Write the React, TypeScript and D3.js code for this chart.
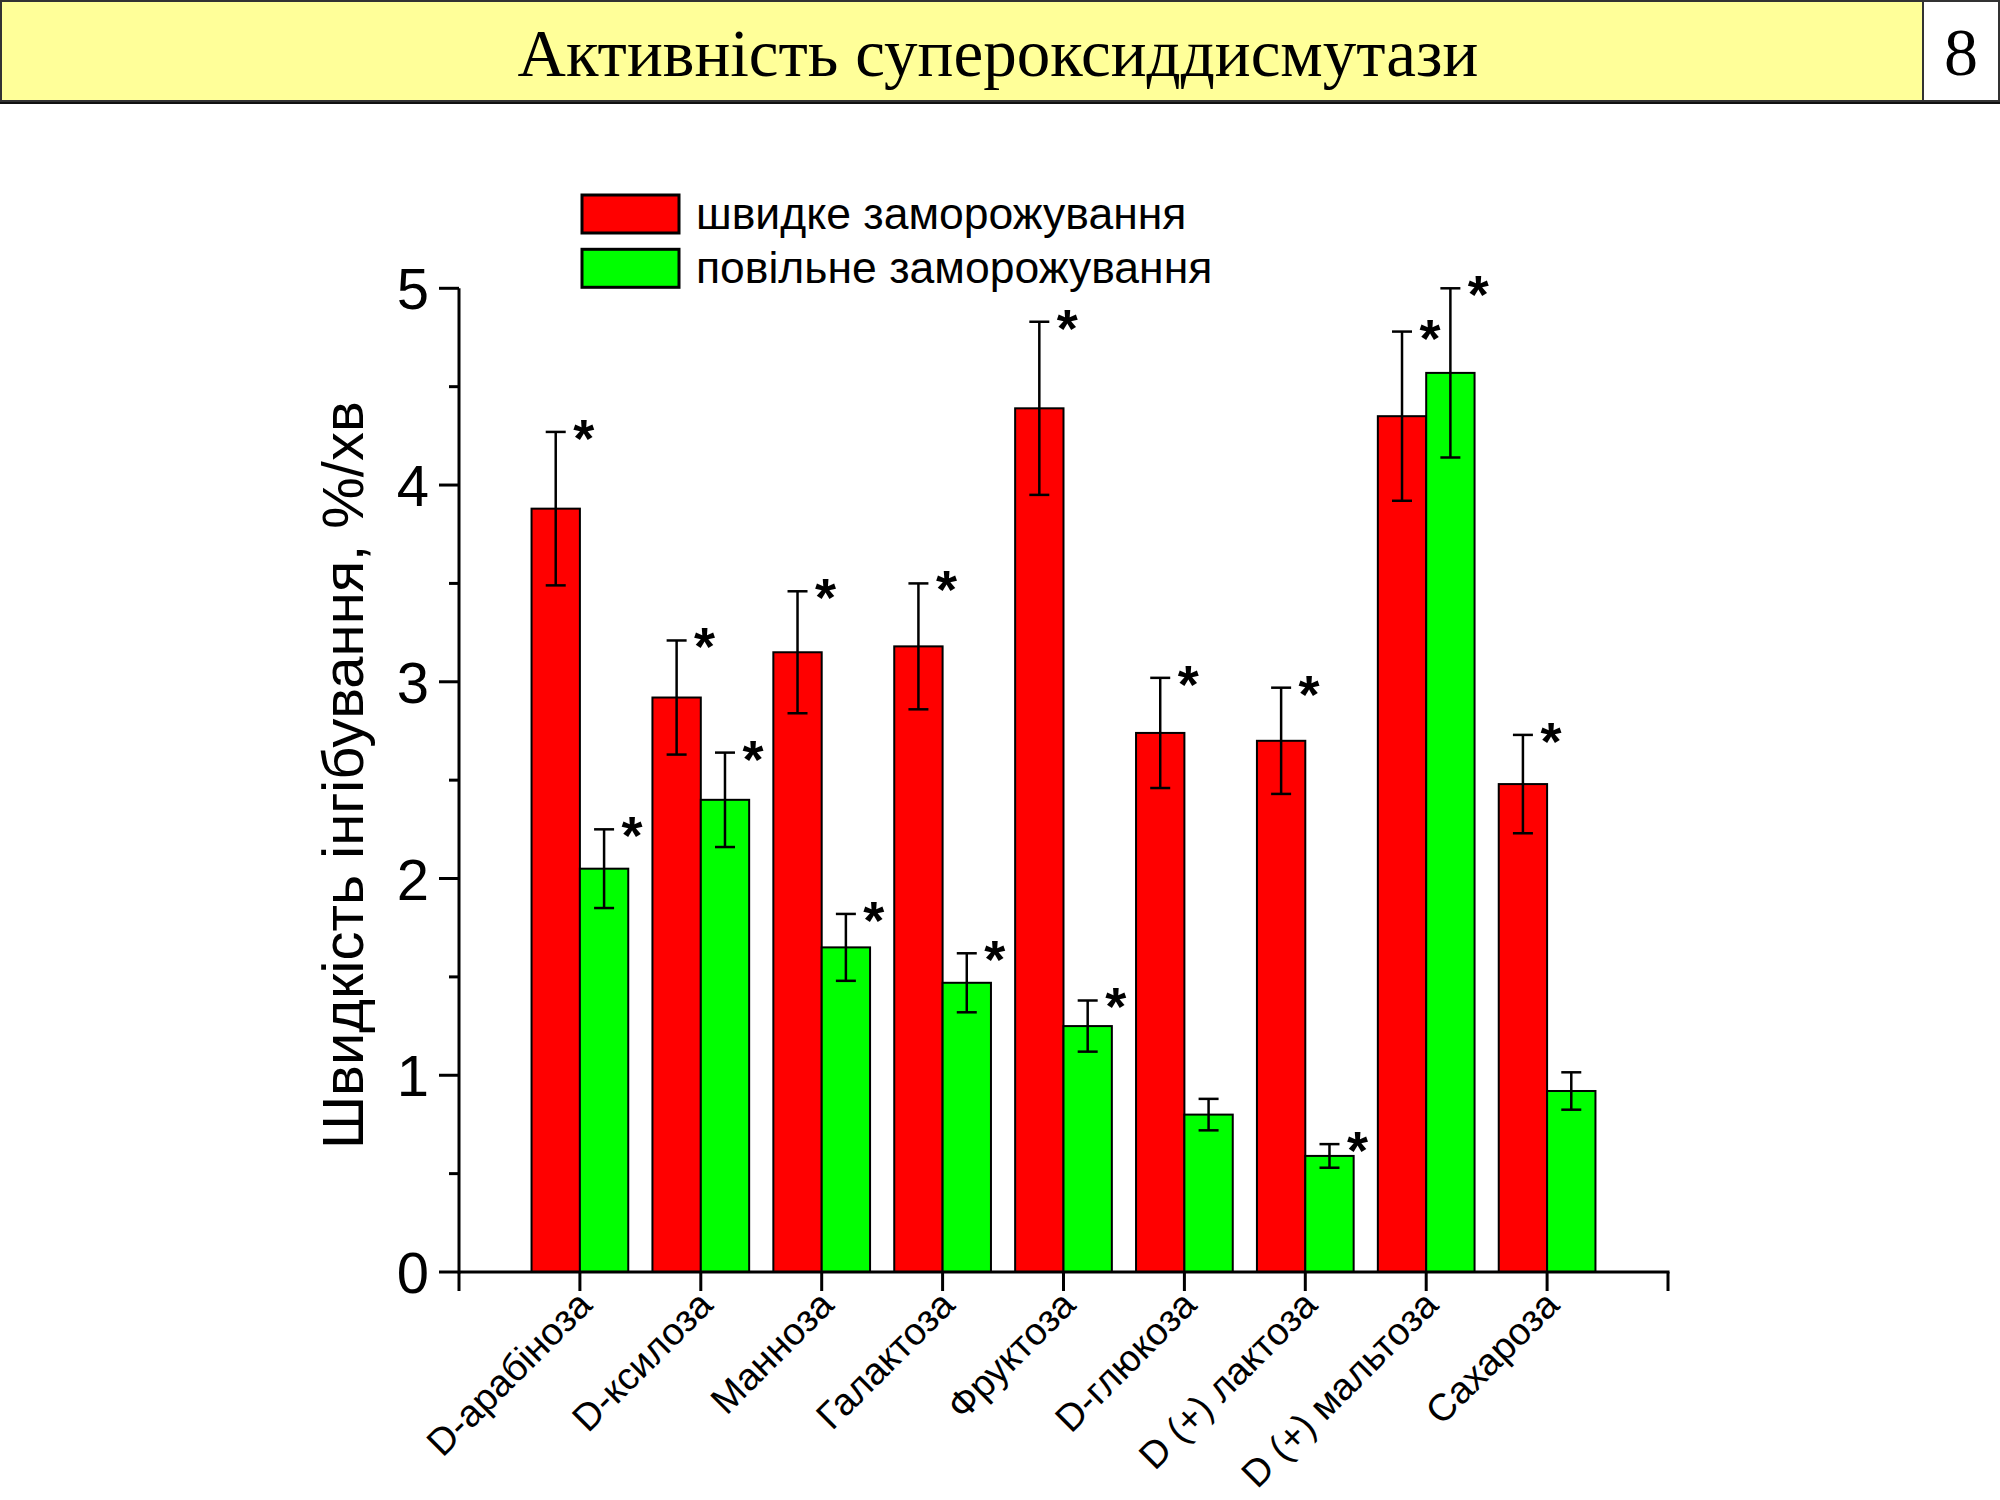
import { useEffect, useRef } from "react";
import * as d3 from "d3";

const categories = [
  "D-арабіноза",
  "D-ксилоза",
  "Манноза",
  "Галактоза",
  "Фруктоза",
  "D-глюкоза",
  "D (+) лактоза",
  "D (+) мальтоза",
  "Сахароза",
];

// швидке заморожування
const fastValues = [3.88, 2.92, 3.15, 3.18, 4.39, 2.74, 2.7, 4.35, 2.48];
const fastErrors = [0.39, 0.29, 0.31, 0.32, 0.44, 0.28, 0.27, 0.43, 0.25];
const fastMarked = [true, true, true, true, true, true, true, true, true];

// повільне заморожування
const slowValues = [2.05, 2.4, 1.65, 1.47, 1.25, 0.8, 0.59, 4.57, 0.92];
const slowErrors = [0.2, 0.24, 0.17, 0.15, 0.13, 0.08, 0.06, 0.43, 0.095];
const slowMarked = [true, true, true, true, true, false, true, true, false];

const yTicks = [0, 1, 2, 3, 4, 5];
const yMinorTicks = [0.5, 1.5, 2.5, 3.5, 4.5];

const seriesNames = ["швидке заморожування", "повільне заморожування"];
const seriesColors = ["#ff0000", "#00ff00"];

const titleText = "Активність супероксиддисмутази";
const pageNumber = "8";
const yTitle = "Швидкість інгібування, %/хв";

const SANS = "'Liberation Sans', Arial, sans-serif";
const SERIF = "'Liberation Serif', 'Times New Roman', serif";

export default function App() {
  const svgRef = useRef<SVGSVGElement>(null);

  useEffect(() => {
    if (!svgRef.current) return;
    const svg = d3.select(svgRef.current);
    svg.selectAll("*").remove();

    // header bar
    svg
      .append("line")
      .attr("x1", 0)
      .attr("x2", 2000)
      .attr("y1", 102.5)
      .attr("y2", 102.5)
      .attr("stroke", "#111")
      .attr("stroke-width", 3);
    svg
      .append("rect")
      .attr("x", 1)
      .attr("y", 1)
      .attr("width", 1922)
      .attr("height", 100)
      .attr("fill", "#ffff99")
      .attr("stroke", "#333")
      .attr("stroke-width", 2);
    svg
      .append("rect")
      .attr("x", 1923)
      .attr("y", 1)
      .attr("width", 76)
      .attr("height", 100)
      .attr("fill", "#fff")
      .attr("stroke", "#333")
      .attr("stroke-width", 2);
    svg
      .append("text")
      .attr("x", 998)
      .attr("y", 76)
      .attr("text-anchor", "middle")
      .style("font-family", SERIF)
      .style("font-size", "67px")
      .text(titleText);
    svg
      .append("text")
      .attr("x", 1961)
      .attr("y", 75)
      .attr("text-anchor", "middle")
      .style("font-family", SERIF)
      .style("font-size", "68px")
      .text(pageNumber);

    // scales
    const x = d3.scaleLinear().domain([0, 10]).range([459, 1668]);
    const y = d3.scaleLinear().domain([0, 5]).range([1272, 288.3]);
    const barW = 0.4;

    const g = svg.append("g");

    const series = [
      { values: fastValues, errors: fastErrors, marked: fastMarked, off: -barW },
      { values: slowValues, errors: slowErrors, marked: slowMarked, off: 0 },
    ];

    series.forEach((s, si) => {
      const items = s.values.map((v, i) => ({
        v,
        e: s.errors[i],
        m: s.marked[i],
        pos: i + 1 + s.off,
      }));

      g.selectAll(`rect.bar${si}`)
        .data(items)
        .enter()
        .append("rect")
        .attr("class", `bar${si}`)
        .attr("x", (d) => x(d.pos))
        .attr("width", x(barW) - x(0))
        .attr("y", (d) => y(d.v))
        .attr("height", (d) => y(0) - y(d.v))
        .attr("fill", seriesColors[si])
        .attr("stroke", "#000")
        .attr("stroke-width", 2);

      const cx = (d: { pos: number }) => x(d.pos + barW / 2);

      const err = g
        .selectAll(`g.err${si}`)
        .data(items)
        .enter()
        .append("g")
        .attr("class", `err${si}`)
        .attr("stroke", "#000")
        .attr("stroke-width", 2.5);
      err
        .append("line")
        .attr("x1", cx)
        .attr("x2", cx)
        .attr("y1", (d) => y(d.v + d.e))
        .attr("y2", (d) => y(d.v - d.e));
      err
        .append("line")
        .attr("x1", (d) => cx(d) - 10)
        .attr("x2", (d) => cx(d) + 10)
        .attr("y1", (d) => y(d.v + d.e))
        .attr("y2", (d) => y(d.v + d.e));
      err
        .append("line")
        .attr("x1", (d) => cx(d) - 10)
        .attr("x2", (d) => cx(d) + 10)
        .attr("y1", (d) => y(d.v - d.e))
        .attr("y2", (d) => y(d.v - d.e));

      g.selectAll(`text.star${si}`)
        .data(items.filter((d) => d.m))
        .enter()
        .append("text")
        .attr("class", `star${si}`)
        .attr("x", (d) => cx(d) + 28)
        .attr("y", (d) => y(d.v + d.e) + 25)
        .attr("text-anchor", "middle")
        .style("font-family", SANS)
        .style("font-weight", "bold")
        .style("font-size", "54px")
        .text("*");
    });

    // y axis
    const ya = svg.append("g").attr("stroke", "#000");
    ya.append("line")
      .attr("x1", x(0))
      .attr("x2", x(0))
      .attr("y1", y(0) + 1.5)
      .attr("y2", y(5))
      .attr("stroke-width", 3);
    ya.selectAll("line.major")
      .data(yTicks)
      .enter()
      .append("line")
      .attr("class", "major")
      .attr("x1", x(0) - 20)
      .attr("x2", x(0))
      .attr("y1", (d) => y(d))
      .attr("y2", (d) => y(d))
      .attr("stroke-width", 3);
    ya.selectAll("line.minor")
      .data(yMinorTicks)
      .enter()
      .append("line")
      .attr("class", "minor")
      .attr("x1", x(0) - 10)
      .attr("x2", x(0))
      .attr("y1", (d) => y(d))
      .attr("y2", (d) => y(d))
      .attr("stroke-width", 3);
    svg
      .selectAll("text.ytick")
      .data(yTicks)
      .enter()
      .append("text")
      .attr("class", "ytick")
      .attr("x", x(0) - 30)
      .attr("y", (d) => y(d) + 21)
      .attr("text-anchor", "end")
      .style("font-family", SANS)
      .style("font-size", "58px")
      .text((d) => String(d));
    svg
      .append("text")
      .attr("transform", `translate(363, ${(y(0) + y(5)) / 2 - 5}) rotate(-90)`)
      .attr("text-anchor", "middle")
      .style("font-family", SANS)
      .style("font-size", "58px")
      .text(yTitle);

    // x axis
    const xa = svg.append("g").attr("stroke", "#000");
    xa.append("line")
      .attr("x1", x(0))
      .attr("x2", x(10) + 1.5)
      .attr("y1", y(0))
      .attr("y2", y(0))
      .attr("stroke-width", 3);
    xa.selectAll("line.xt")
      .data(d3.range(0, 11))
      .enter()
      .append("line")
      .attr("class", "xt")
      .attr("x1", (d) => x(d))
      .attr("x2", (d) => x(d))
      .attr("y1", y(0))
      .attr("y2", y(0) + 19)
      .attr("stroke-width", 3);
    svg
      .selectAll("text.xlab")
      .data(categories)
      .enter()
      .append("text")
      .attr("class", "xlab")
      .attr("transform", (_, i) => `translate(${x(i + 1) + 14}, ${y(0) + 35}) rotate(-45)`)
      .attr("text-anchor", "end")
      .style("font-family", SANS)
      .style("font-size", "38px")
      .text((d) => d);

    // legend
    seriesNames.forEach((name, i) => {
      const top = 195 + i * 54.3;
      svg
        .append("rect")
        .attr("x", 582)
        .attr("y", top)
        .attr("width", 97)
        .attr("height", 38)
        .attr("fill", seriesColors[i])
        .attr("stroke", "#000")
        .attr("stroke-width", 3);
      svg
        .append("text")
        .attr("x", 696)
        .attr("y", top + 34)
        .style("font-family", SANS)
        .style("font-size", "44.5px")
        .text(name);
    });
  }, []);

  return (
    <svg
      ref={svgRef}
      width={2000}
      height={1500}
      style={{ position: "absolute", left: 0, top: 0, background: "#fff" }}
    ></svg>
  );
}
